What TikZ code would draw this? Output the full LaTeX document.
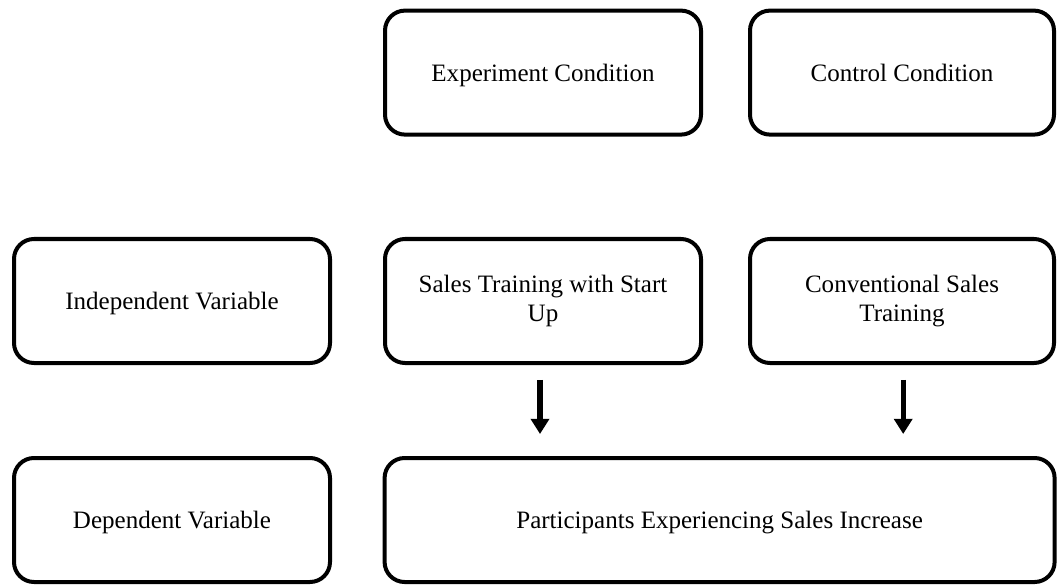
\documentclass[tikz,border=0pt]{standalone}
\usepackage{fontspec}
\setmainfont{Liberation Serif}
\usetikzlibrary{arrows.meta}
\begin{document}
\begin{tikzpicture}[auto,
            box/.style={draw, line width=0.1cm, rounded corners=0.5cm, minimum width=7.9cm, minimum height=3.1cm, align=center, font=\fontsize{17.8}{21}\selectfont},
            single/.style={box, text height=0.44cm, text depth=0cm},
            flow/.style={line width=0.13cm, -{Triangle[width=0.45cm, length=0.38cm]}, shorten <=0.37cm, shorten >=0.55cm}]
            \useasboundingbox (0,0) rectangle (26.5,14.625);

            \node[single] (expcond) at (13.575,12.81) {Experiment Condition};
            \node[single, minimum width=7.6cm] (ctrlcond) at (22.55,12.81) {Control Condition};

            \node[single] (indep) at (4.3,7.1) {Independent Variable};
            \node[box] (salestr) at (13.575,7.1) {Sales Training with Start\\Up};
            \node[box, minimum width=7.6cm] (convtr) at (22.55,7.1) {Conventional Sales\\Training};

            \node[single] (dep) at (4.3,1.625) {Dependent Variable};
            \node[single, minimum width=16.75cm] (partic) at (17.99,1.625) {Participants Experiencing Sales Increase};

            \draw[flow] ([xshift=-0.075cm]salestr.south) -- ([xshift=-0.075cm]salestr.south |- partic.north);
            \draw[flow] ([xshift=0.03cm]convtr.south) -- ([xshift=0.03cm]convtr.south |- partic.north);
        \end{tikzpicture}
\end{document}
